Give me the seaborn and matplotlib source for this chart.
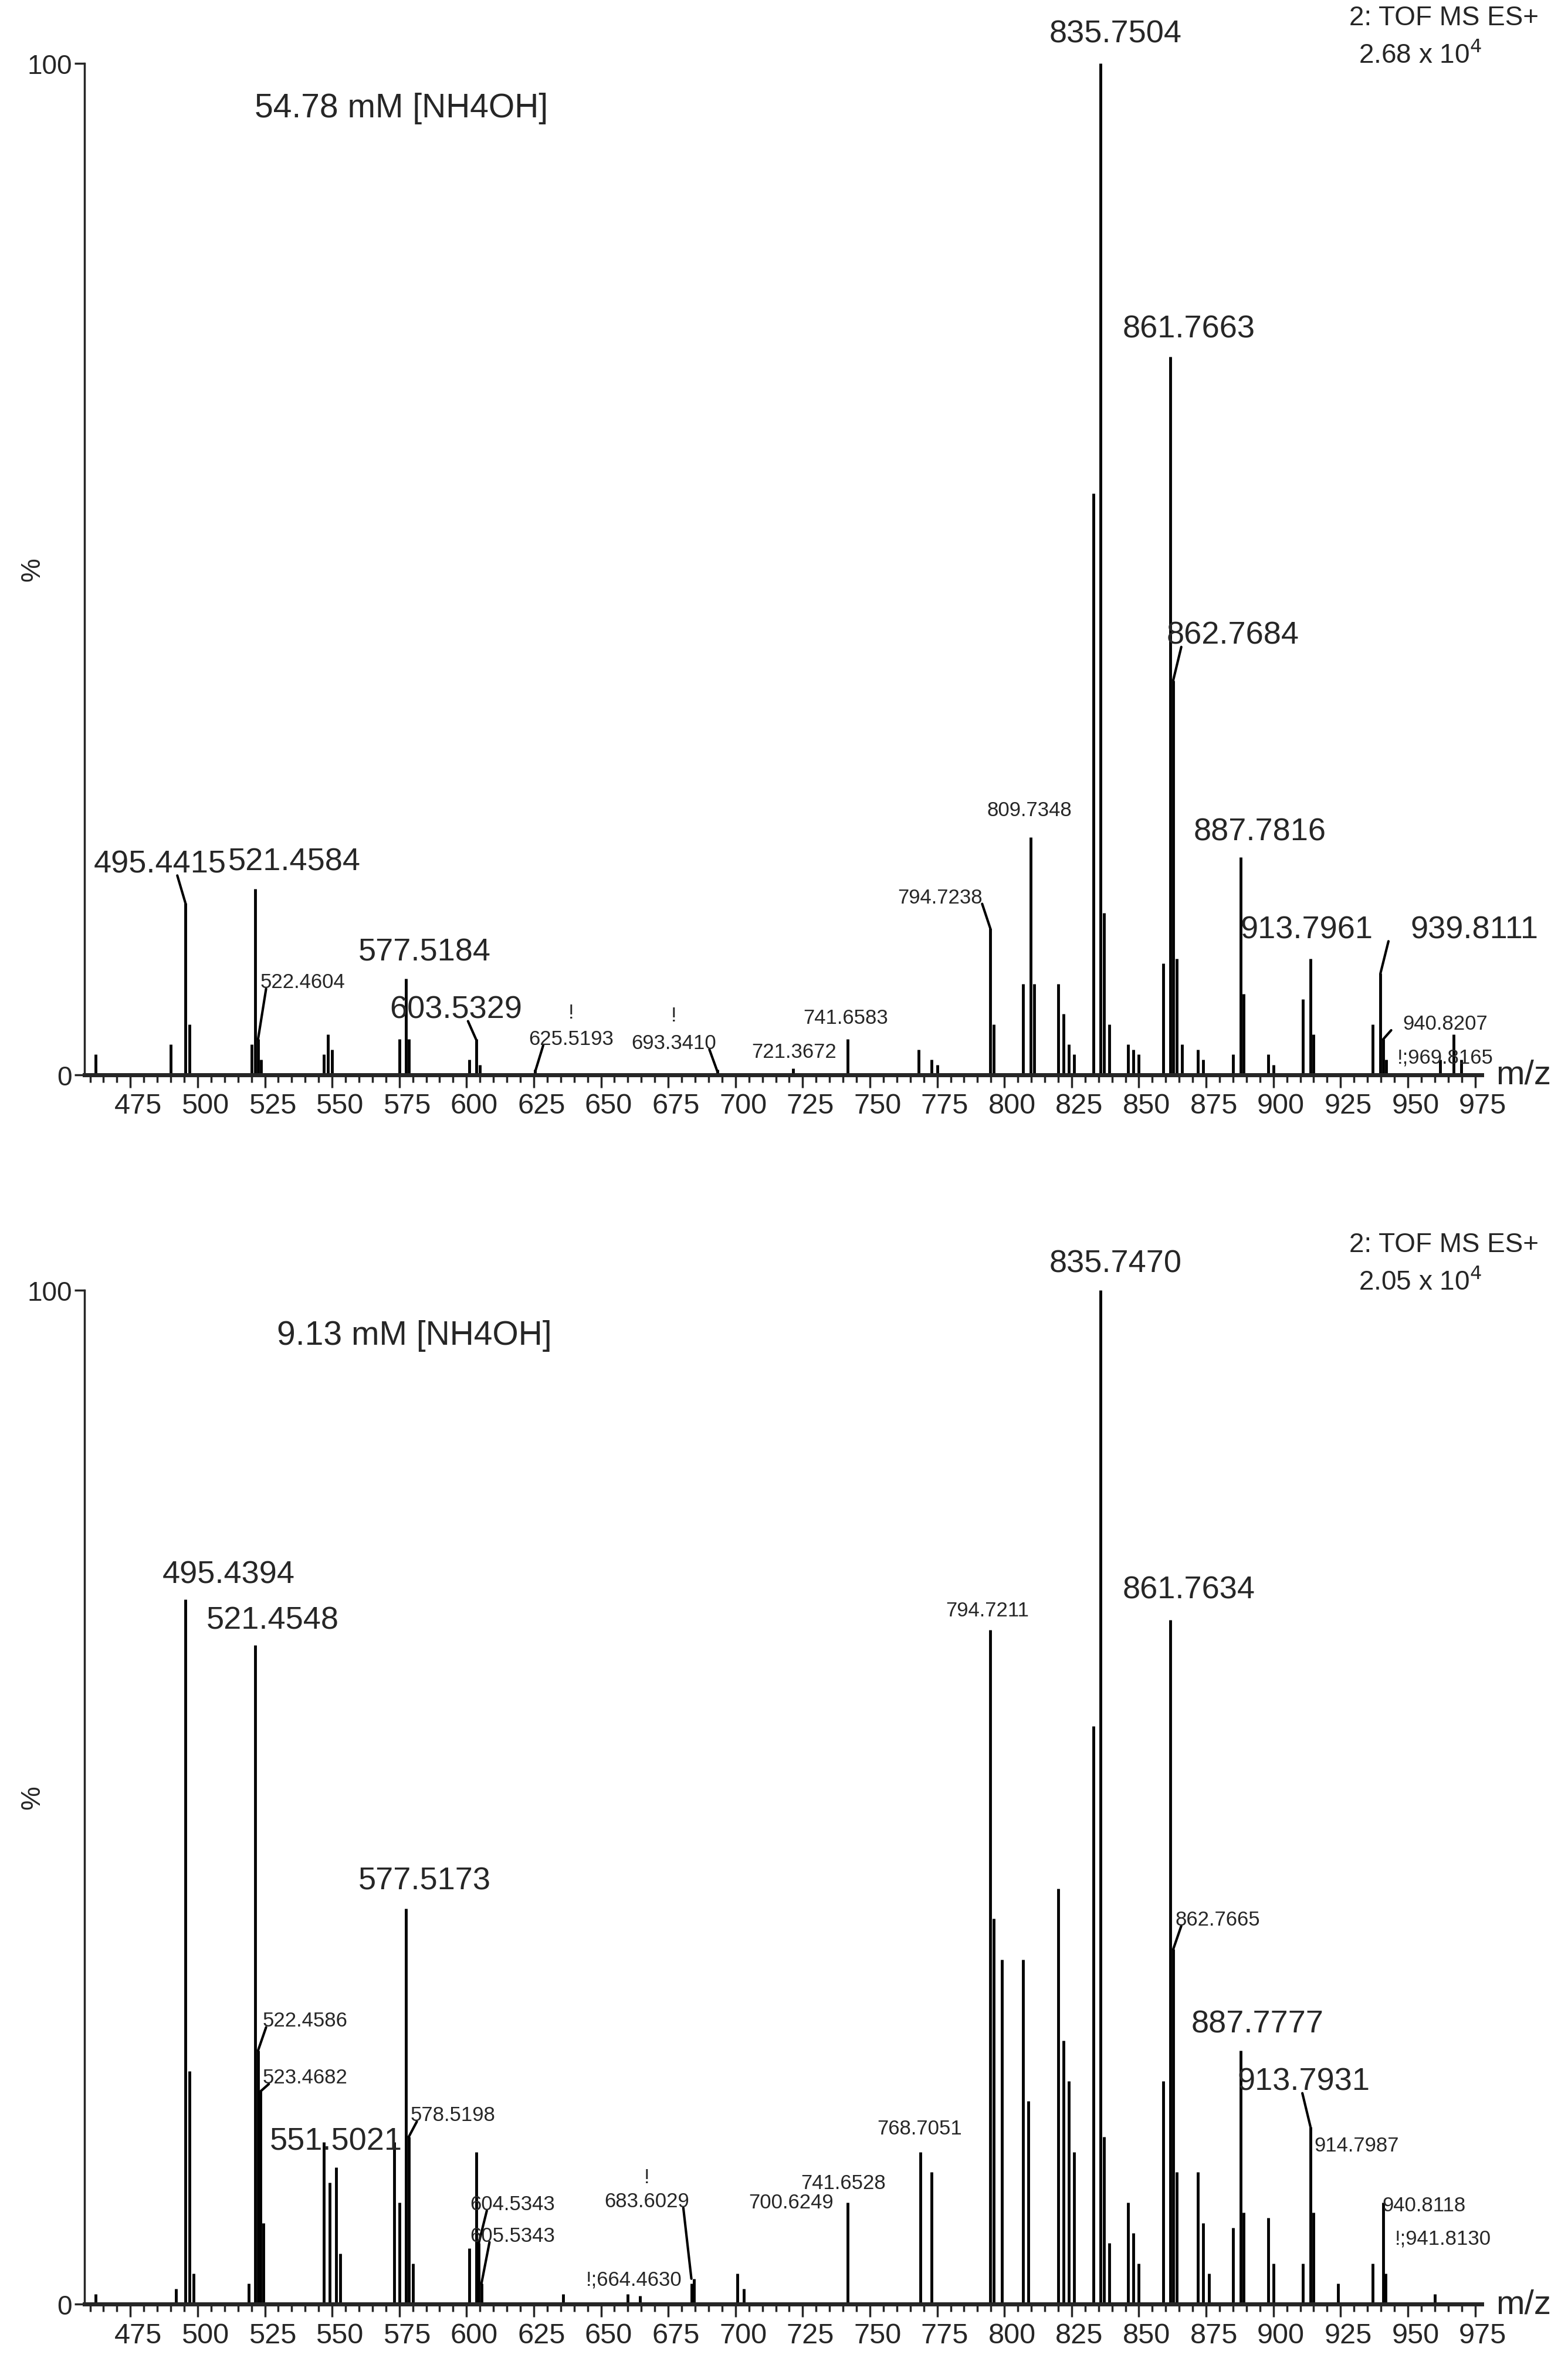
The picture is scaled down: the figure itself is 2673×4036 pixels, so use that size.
import matplotlib
matplotlib.use("Agg")
import matplotlib.pyplot as plt
import matplotlib.transforms as mtrans
import seaborn as sns
import numpy as np

sns.set_style("white")
plt.rcParams['font.family'] = ['Liberation Sans', 'DejaVu Sans']

# ---- data: top panel (54.78 mM) ----
top_mz = [462, 490, 495.44, 497, 520, 521.46, 522.46, 523.5, 547, 548.5, 550, 575, 577.52, 578.5,
          601, 603.53, 605, 625.5, 693.3, 721.4, 741.66, 768, 773, 775, 794.72, 796, 807, 809.73, 811,
          820, 822, 824, 826, 833, 835.75, 837, 839, 846, 848, 850, 859, 861.77, 862.77, 864, 866,
          872, 874, 885, 887.78, 889, 898, 900, 911, 913.80, 915, 937, 939.81, 940.82, 942, 962, 967, 969.8]
top_int = [2, 3, 17, 5, 3, 18.4, 3.5, 1.5, 2, 4, 2.5, 3.5, 9.5, 3.5,
           1.5, 3.5, 1, 0.5, 0.5, 0.6, 3.5, 2.5, 1.5, 1, 14.5, 5, 9, 23.5, 9,
           9, 6, 3, 2, 57.5, 100, 16, 5, 3, 2.5, 2, 11, 71, 39, 11.5, 3,
           2.5, 1.5, 2, 21.5, 8, 2, 1, 7.5, 11.5, 4, 5, 10, 3.5, 1.5, 1.5, 4, 1.5]
# labels: text, peak mz, peak %, label x, label y, size ('L'/'S'), leader line
top_labels = [("495.4415", 495.44, 17, 486, 19.4, 'L', True), ("521.4584", 521.46, 18.4, 536, 19.6, 'L', False),
              ("522.4604", 522.46, 3.5, 539, 8.2, 'S', True), ("577.5184", 577.52, 9.5, 584.5, 10.7, 'L', False),
              ("603.5329", 603.53, 3.5, 596, 5.0, 'L', True), ("625.5193", 625.5, 0.3, 639, 2.6, 'S', True),
              ("693.3410", 693.3, 0.3, 677, 2.2, 'S', True), ("721.3672", 721.4, 0.6, 721.7, 1.3, 'S', False),
              ("741.6583", 741.66, 3.5, 741, 4.7, 'S', False), ("794.7238", 794.72, 14.5, 776, 16.6, 'S', True),
              ("809.7348", 809.73, 23.5, 809.3, 25.2, 'S', False), ("835.7504", 835.75, 100, 841.4, 101.5, 'L', False),
              ("861.7663", 861.77, 71, 868.6, 72.3, 'L', False), ("862.7684", 862.77, 39, 885, 42, 'L', True),
              ("887.7816", 887.78, 21.5, 895, 22.6, 'L', False), ("913.7961", 913.80, 11.5, 912.4, 12.9, 'L', False),
              ("939.8111", 939.81, 10, 974.7, 12.9, 'L', True), ("940.8207", 940.82, 3.5, 964, 4.1, 'S', True),
              ("!;969.8165", 969.8, 1.5, 964, 0.8, 'S', False)]
top_bangs = [(639, 5.2), (677, 4.9)]

# ---- data: bottom panel (9.13 mM) ----
bot_mz = [462, 492, 495.44, 497, 498.5, 519, 521.45, 522.46, 523.47, 524.5, 547, 549, 551.50, 553,
          573, 575, 577.52, 578.52, 580, 601, 603.53, 604.53, 605.53, 636, 660, 664.46, 683.60, 684.5,
          700.62, 703, 741.65, 768.71, 773, 794.72, 796, 799, 807, 809, 820, 822, 824, 826,
          833, 835.75, 837, 839, 846, 848, 850, 859, 861.76, 862.77, 864, 872, 874, 876,
          885, 887.78, 889, 898, 900, 911, 913.79, 914.80, 924, 937, 940.81, 941.81, 960]
bot_int = [1, 1.5, 69.5, 23, 3, 2, 65, 25, 21, 8, 16, 12, 13.5, 5,
           16, 10, 39, 16.5, 4, 5.5, 15, 6, 2, 1, 1, 0.8, 2, 2.5,
           3, 1.5, 10, 15, 13, 66.5, 38, 34, 34, 20, 41, 26, 22, 15,
           57, 100, 16.5, 6, 10, 7, 4, 22, 67.5, 35, 13, 13, 8, 3,
           7.5, 25, 9, 8.5, 4, 4, 17.5, 9, 2, 4, 10, 3, 1]
bot_labels = [("495.4394", 495.44, 69.5, 511.5, 70.5, 'L', False), ("521.4548", 521.45, 65, 528, 66, 'L', False),
              ("522.4586", 522.46, 25, 540, 27, 'S', True), ("523.4682", 523.47, 21, 540, 21.4, 'S', True),
              ("551.5021", 551.50, 13.5, 551.4, 14.6, 'L', False), ("577.5173", 577.52, 39, 584.5, 40.3, 'L', False),
              ("578.5198", 578.52, 16.5, 595, 17.7, 'S', True), ("604.5343", 604.53, 6, 617, 8.9, 'S', True),
              ("605.5343", 605.53, 2, 617, 5.8, 'S', True), ("683.6029", 683.60, 2.5, 667, 9.2, 'S', True),
              ("!;664.4630", 664.46, 0.8, 662.3, 1.5, 'S', False), ("700.6249", 700.62, 3, 720.7, 9.1, 'S', False),
              ("741.6528", 741.65, 10, 740.2, 11.0, 'S', False), ("768.7051", 768.71, 15, 768.4, 16.4, 'S', False),
              ("794.7211", 794.72, 66.5, 793.7, 67.5, 'S', False), ("835.7470", 835.75, 100, 841.4, 101.2, 'L', False),
              ("861.7634", 861.76, 67.5, 868.6, 69, 'L', False), ("862.7665", 862.77, 35, 879.3, 37, 'S', True),
              ("887.7777", 887.78, 25, 894, 26.2, 'L', False), ("913.7931", 913.79, 17.5, 911.4, 20.5, 'L', True),
              ("914.7987", 914.80, 9, 931, 14.7, 'S', False), ("940.8118", 940.81, 10, 956, 8.8, 'S', False),
              ("!;941.8130", 941.81, 3, 963, 5.5, 'S', False)]
bot_bangs = [(667, 11.6)]

xticks = list(range(475, 1000, 25))

fig = plt.figure(figsize=(26.73, 40.37), dpi=100)
ax1 = fig.add_axes([0.054, 0.546, 0.891, 0.427])
ax2 = fig.add_axes([0.054, 0.027, 0.891, 0.428])

def draw(ax, mz, inten, labels, bangs, title, tx, scale):
    ax.vlines(mz, 0, inten, color='black', lw=3.5, clip_on=False)
    ax.set_xlim(458, 977.5)
    ax.set_ylim(0, 100)
    sns.despine(ax=ax)
    ax.spines['left'].set_linewidth(2.5)
    ax.spines['bottom'].set_linewidth(5)
    ax.set_xticks(xticks)
    ax.set_xticks(np.arange(460, 978, 5), minor=True)
    ax.tick_params(axis='x', which='major', length=16, width=2.5, labelsize=35, direction='out', bottom=True, pad=6)
    ax.tick_params(axis='x', which='minor', length=9, width=2.5, bottom=True)
    off = mtrans.ScaledTranslation(0.13, 0, ax.figure.dpi_scale_trans)
    for lab in ax.get_xticklabels():
        lab.set_transform(lab.get_transform() + off)
    ax.set_yticks([0, 100])
    ax.tick_params(axis='y', length=12, width=2.5, labelsize=33, left=True)
    ax.set_ylabel('%', fontsize=33, rotation=90)
    ax.yaxis.set_label_coords(-0.028, 0.5)
    for txt, px, py, lx, ly, sz, lead in labels:
        fs = 39 if sz == 'L' else 25
        ax.text(lx, ly, txt, fontsize=fs, ha='center', va='bottom', clip_on=False)
        if lead:
            ax.plot([px, px + np.sign(lx - px) * 3], [py, ly + 0.3], color='black', lw=3, clip_on=False)
    for bx, by in bangs:
        ax.text(bx, by, '!', fontsize=25, ha='center', va='bottom')
    ax.text(tx, 94, title, fontsize=41, ha='center', va='bottom')
    ax.text(1.01, 0.0, 'm/z', transform=ax.transAxes, fontsize=42, va='center', ha='left')
    ax.text(0.905, 1.045, '2: TOF MS ES+', transform=ax.transAxes, fontsize=33, ha='left', va='center')
    ax.text(0.912, 1.008, scale + ' x 10$^4$', transform=ax.transAxes, fontsize=33, ha='left', va='center')

draw(ax1, top_mz, top_int, top_labels, top_bangs, '54.78 mM [NH4OH]', 575.7, '2.68')
draw(ax2, bot_mz, bot_int, bot_labels, bot_bangs, '9.13 mM [NH4OH]', 580.6, '2.05')

fig.savefig('out.png', dpi=100)
